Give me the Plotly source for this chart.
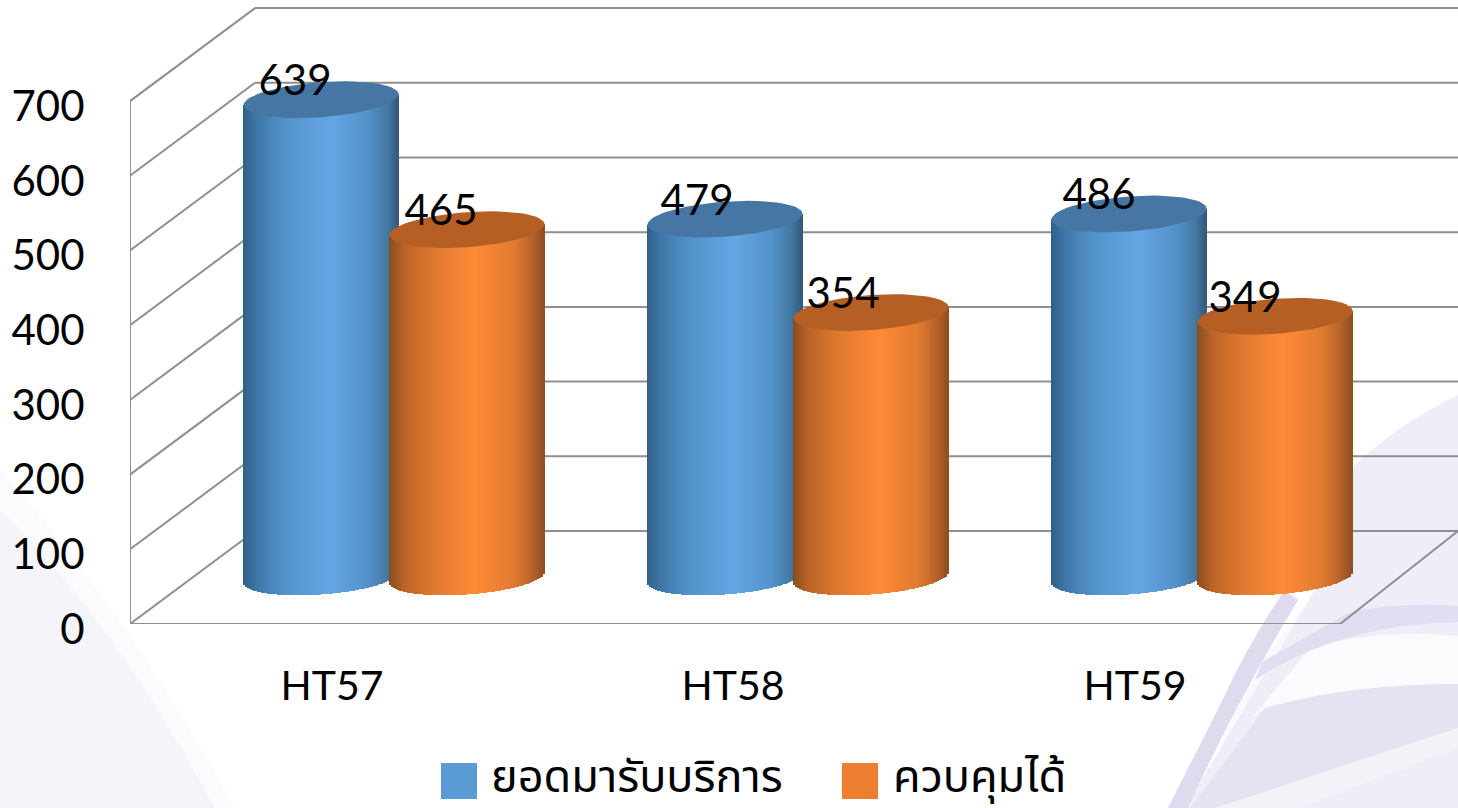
import math
import plotly.graph_objects as go

CATEGORIES = ["HT57", "HT58", "HT59"]
SERIES_1_NAME = "ยอดมารับบริการ"
SERIES_2_NAME = "ควบคุมได้"
SERIES_1 = [639, 479, 486]
SERIES_2 = [465, 354, 349]
Y_TICKS = [0, 100, 200, 300, 400, 500, 600, 700]

W, H = 1458, 808
FONT = "Lato, Carlito, Calibri, sans-serif"
THAI_FONT = "'Noto Sans Thai', 'Noto Sans', Lato, sans-serif"
PX_X = 404.0            # pixels per category
PX_Y = 0.747            # pixels per value unit
X_ORIGIN = 394.0        # pixel of the first group's centre
LEFT, BOTTOM = 130, 624
DEPTH_X = 125 / PX_X    # depth of the 3-D box, in axis units
DEPTH_Y = 93 / PX_Y
FLOOR_Y = 47 / PX_Y     # cylinders stand this far up the floor
OFFSET = 73 / PX_X
RX = 77.5 / PX_X
RY = 17.5 / PX_Y
TILT = 5.5 / PX_Y
N = 78
LABEL_DX = [-26, -28, -30]

BLUE_STOPS = [(0, (48, 94, 134)), (.08, (62, 118, 166)), (.25, (80, 144, 200)), (.55, (100, 166, 228)),
              (.8, (83, 145, 201)), (.93, (68, 121, 163)), (1, (53, 88, 122))]
ORANGE_STOPS = [(0, (134, 76, 30)), (.1, (189, 100, 40)), (.3, (224, 122, 48)), (.55, (255, 138, 56)),
                (.8, (224, 122, 48)), (.93, (181, 98, 42)), (1, (140, 78, 32))]
BLUE_TOP = "#4676a3"
ORANGE_TOP = "#b55f25"
SWATCH_1 = "#5b9bd5"
SWATCH_2 = "#ed7d31"
GRID = "#8f8f8f"


def px2x(p):
    return (p - X_ORIGIN) / PX_X


def shade(stops, f):
    for (a, ca), (b, cb) in zip(stops, stops[1:]):
        if f <= b:
            k = (f - a) / (b - a)
            return "rgb(%d,%d,%d)" % tuple(round(p + (q - p) * k) for p, q in zip(ca, cb))
    return "rgb(%d,%d,%d)" % stops[-1][1]


def cylinder(cx, value, stops, top_color):
    us = [-1 + (2 * i + 1) / N for i in range(N)]
    xs = [cx + u * RX for u in us]
    base = [FLOOR_Y + TILT * u - RY * (1 - u * u) ** .5 for u in us]
    top = [FLOOR_Y + value + TILT * u for u in us]
    bar = go.Bar(x=xs, y=[t - b for t, b in zip(top, base)], base=base,
                 width=2.25 * RX / N, showlegend=False, hoverinfo="skip",
                 marker=dict(color=[shade(stops, (u + 1) / 2) for u in us], line=dict(width=0)))
    ts = [i / 60 * 2 * math.pi for i in range(61)]
    ex = [cx + RX * math.cos(t) for t in ts]
    ey = [FLOOR_Y + value + TILT * math.cos(t) + RY * math.sin(t) for t in ts]
    cap = go.Scatter(x=ex, y=ey, mode="lines", fill="toself", fillcolor=top_color,
                     line=dict(width=0, color=top_color), showlegend=False, hoverinfo="skip")
    return bar, cap


fig = go.Figure()
caps = []
for i in range(len(CATEGORIES)):
    for sign, values, stops, col in ((-1, SERIES_1, BLUE_STOPS, BLUE_TOP), (1, SERIES_2, ORANGE_STOPS, ORANGE_TOP)):
        b, c = cylinder(i + sign * OFFSET, values[i], stops, col)
        fig.add_trace(b)
        caps.append(c)
for c in caps:
    fig.add_trace(c)

# data labels
lx, ly, lt = [], [], []
for i in range(len(CATEGORIES)):
    for sign, values in ((-1, SERIES_1), (1, SERIES_2)):
        lx.append(i + sign * OFFSET + LABEL_DX[i] / PX_X)
        ly.append(FLOOR_Y + values[i] + 15 / PX_Y)
        lt.append(str(values[i]))
fig.add_trace(go.Scatter(x=lx, y=ly, text=lt, mode="text", textposition="middle center",
                         textfont=dict(family=FONT, size=42, color="#000"), showlegend=False, hoverinfo="skip"))

# legend entries
fig.add_trace(go.Scatter(x=[None], y=[None], mode="markers", name=SERIES_1_NAME,
                         marker=dict(symbol="square", size=10, color=SWATCH_1)))
fig.add_trace(go.Scatter(x=[None], y=[None], mode="markers", name=SERIES_2_NAME,
                         marker=dict(symbol="square", size=10, color=SWATCH_2)))

# 3-D box drawn behind the cylinders
x_left, x_right = px2x(LEFT), px2x(1458)
x_back = x_left + DEPTH_X
shapes = []


def seg(x0, y0, x1, y1):
    shapes.append(dict(type="line", xref="x", yref="y", x0=x0, y0=y0, x1=x1, y1=y1, layer="below",
                       line=dict(color=GRID, width=2)))


# decorative page background
def bg(path, fill, op=1):
    shapes.append(dict(type="path", xref="paper", yref="paper", path=path, fillcolor=fill, opacity=op,
                       line=dict(width=0), layer="below"))


def P(x, y):
    return "%.4f,%.4f" % ((x - LEFT) / (W - LEFT), (BOTTOM - y) / BOTTOM)


def path(cmds):
    return " ".join(c + " ".join(P(*p) for p in pts) for c, pts in cmds) + " Z"


fig.update_layout(
    width=W, height=H, autosize=False,
    margin=dict(l=LEFT, r=0, t=0, b=H - BOTTOM, pad=0),
    paper_bgcolor="white", plot_bgcolor="rgba(0,0,0,0)",
    barmode="overlay", bargap=0, hovermode=False,
    font=dict(family=FONT, size=42, color="#000"),
    xaxis=dict(range=[x_left, x_right], showgrid=False, zeroline=False, showline=False,
               tickmode="array", tickvals=[-0.1535, 0.8391, 1.834], ticktext=CATEGORIES,
               ticks="outside", ticklen=26, tickcolor="rgba(0,0,0,0)", tickfont=dict(family=FONT, size=41)),
    yaxis=dict(range=[0, BOTTOM / PX_Y], showgrid=False, zeroline=False, showline=False,
               tickmode="array", tickvals=Y_TICKS, ticktext=[str(v) for v in Y_TICKS],
               ticks="outside", ticklen=36, tickcolor="rgba(0,0,0,0)", tickfont=dict(family=FONT, size=42),
               ticklabelshift=5),
    legend=dict(orientation="h", x=(451 - LEFT) / (W - LEFT), y=(H - 739) / H, yref="container", xanchor="left", yanchor="top",
                font=dict(family=THAI_FONT, size=45, color="#000"), bgcolor="rgba(0,0,0,0)",
                entrywidth=357, entrywidthmode="pixels", itemclick=False, itemdoubleclick=False),
)

# faint lavender page art (lower left, lower right)
bg(path([("M", [(0, 470)]), ("Q", [(120, 600), (235, 808)]), ("L", [(0, 808)])]), "#fbfafd")
bg(path([("M", [(0, 510)]), ("Q", [(110, 615), (215, 808)]), ("L", [(0, 808)])]), "#f6f4fb")
bg(path([("M", [(1200, 808)]), ("Q", [(1240, 660), (1350, 560)]), ("L", [(1458, 400)]), ("L", [(1458, 808)])]), "#f9f8fc")
bg(path([("M", [(1458, 395)]), ("Q", [(1395, 425), (1350, 470)]), ("L", [(1315, 590)]), ("L", [(1185, 808)]), ("L", [(1458, 808)])]), "#f0edf8")
bg(path([("M", [(1310, 648)]), ("Q", [(1380, 628), (1458, 636)]), ("L", [(1458, 684)]), ("Q", [(1350, 684), (1265, 708)]), ("L", [(1250, 720)])]), "#fbfafd")
bg(path([("M", [(1265, 708)]), ("Q", [(1350, 684), (1458, 684)]), ("L", [(1458, 728)]), ("L", [(1215, 808)]), ("L", [(1190, 808)])]), "#e6e2f2")
bg(path([("M", [(1458, 728)]), ("L", [(1458, 748)]), ("L", [(1300, 808)]), ("L", [(1215, 808)])]), "#f4f1f9")
bg(path([("M", [(1285, 590)]), ("Q", [(1250, 640), (1220, 705)]), ("L", [(1168, 808)]), ("L", [(1188, 808)]), ("Q", [(1232, 710), (1298, 600)])]), "#dfdaee")
bg(path([("M", [(1350, 612)]), ("Q", [(1400, 602), (1458, 606)]), ("L", [(1458, 622)]), ("Q", [(1340, 624), (1255, 680)]), ("L", [(1262, 662)])]), "#e2ddf0")

for v in Y_TICKS:
    seg(x_left, v, x_back, v + DEPTH_Y)
    seg(x_back, v + DEPTH_Y, x_right, v + DEPTH_Y)
seg(x_left, 0, x_left, Y_TICKS[-1])
seg(x_left, 0, px2x(1340), 0)
seg(px2x(1340), 0, x_right, DEPTH_Y)

# legend swatches, sized as in the reference
shapes.append(dict(type="rect", xref="paper", yref="paper", x0=(441 - LEFT) / (W - LEFT), x1=(477 - LEFT) / (W - LEFT),
                   y0=(BOTTOM - 799) / BOTTOM, y1=(BOTTOM - 763) / BOTTOM, fillcolor=SWATCH_1, line=dict(width=0), layer="above"))
shapes.append(dict(type="rect", xref="paper", yref="paper", x0=(842 - LEFT) / (W - LEFT), x1=(878 - LEFT) / (W - LEFT),
                   y0=(BOTTOM - 799) / BOTTOM, y1=(BOTTOM - 763) / BOTTOM, fillcolor=SWATCH_2, line=dict(width=0), layer="above"))
fig.update_layout(shapes=shapes)

fig.write_html("out.html", config=dict(displayModeBar=False),
               post_script="document.body.style.margin='0';document.body.style.overflow='hidden';")
